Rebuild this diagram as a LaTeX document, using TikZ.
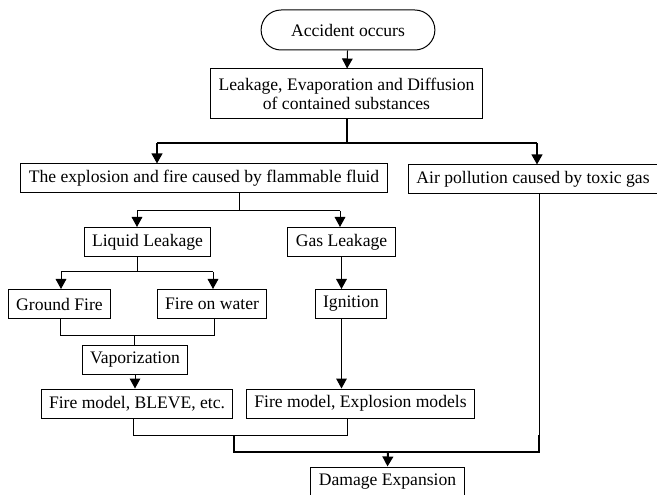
\documentclass[tikz,border=0pt]{standalone}
\usepackage{fontspec}
\setmainfont{Liberation Serif}
\usetikzlibrary{arrows.meta, shapes.misc}

\begin{document}
\begin{tikzpicture}[
  x=0.75pt, y=-0.75pt,
  every node/.style={font=\fontsize{13.2}{14.5}\selectfont},
  box/.style={rectangle, draw, line width=0.75pt, inner xsep=6pt, inner ysep=2pt, minimum height=21.75pt},
  start/.style={rounded rectangle, draw, line width=0.75pt, minimum width=137pt, minimum height=30pt},
  link/.style={line width=0.75pt},
  trunk/.style={line width=1.5pt},
  flow/.style={-{Triangle[length=7.5pt,width=8pt]}}
]
\useasboundingbox (0,0) rectangle (657,495);

% Boxes
\node[start] (acc) at (348,30) {Accident occurs};
\node[box, align=center, minimum height=37.5pt] (leak) at (346.5,94) {Leakage, Evaporation and Diffusion\\of contained substances};
\node[box] (expl) at (204,178.5) {The explosion and fire caused by flammable fluid};
\node[box] (air) at (533,179.5) {Air pollution caused by toxic gas};
\node[box] (liq) at (147.5,242) {Liquid Leakage};
\node[box] (gas) at (341.5,242) {Gas Leakage};
\node[box] (gnd) at (59.5,304) {Ground Fire};
\node[box] (wat) at (212,304) {Fire on water};
\node[box] (ign) at (351,304) {Ignition};
\node[box] (vap) at (135,360) {Vaporization};
\node[box] (blv) at (137,403.5) {Fire model, BLEVE, etc.};
\node[box] (exm) at (360.5,403.5) {Fire model, Explosion models};
\node[box] (dmg) at (387.5,481.5) {Damage Expansion};

% Junctions
\coordinate (j1l) at (157,143);
\coordinate (j1r) at (537,143);
\coordinate (j2) at (239,211);
\coordinate (j2l) at (137,211);
\coordinate (j2r) at (340,211);
\coordinate (j3) at (137,272);
\coordinate (j3l) at (61,272);
\coordinate (j3r) at (213,272);
\coordinate (j4) at (134,336);
\coordinate (j4l) at (60,336);
\coordinate (j4r) at (214,336);
\coordinate (j5) at (234,435);
\coordinate (j5l) at (133,435);
\coordinate (j5r) at (347,435);
\coordinate (j6) at (388,452);
\coordinate (j6l) at (234,452);
\coordinate (j6r) at (539,452);

% Connectors
\draw[link, flow] (acc) -- (leak);
\draw[trunk] (leak.south) -- (leak.south |- j1l);
\draw[trunk] (j1l) -- (j1r);
\draw[trunk, flow] (j1l) -- (j1l |- expl.north);
\draw[trunk, flow] (j1r) -- (j1r |- air.north);

\draw[link] (j2 |- expl.south) -- (j2);
\draw[link] (j2l) -- (j2r);
\draw[link, flow] (j2l) -- (j2l |- liq.north);
\draw[link, flow] (j2r) -- (j2r |- gas.north);

\draw[link] (j3 |- liq.south) -- (j3);
\draw[link] (j3l) -- (j3r);
\draw[link, flow] (j3l) -- (j3l |- gnd.north);
\draw[link, flow] (j3r) -- (j3r |- wat.north);
\draw[link, flow] (gas.south) -- (gas.south |- ign.north);

\draw[link] (j4l |- gnd.south) -- (j4l) -- (j4r) -- (j4r |- wat.south);
\draw[link] (j4) -- (j4 |- vap.north);
\draw[link, flow] (vap.south) -- (vap.south |- blv.north);
\draw[link, flow] (gas.south |- ign.south) -- (gas.south |- exm.north);

\draw[link] (j5l |- blv.south) -- (j5l) -- (j5r) -- (j5r |- exm.south);
\draw[link] (air.south -| j6r) -- (j6r |- j5);
\draw[trunk] (j5) -- (j6l) -- (j6r) -- (j6r |- j5);
\draw[trunk, flow] (j6) -- (dmg.north);

\end{tikzpicture}
\end{document}
